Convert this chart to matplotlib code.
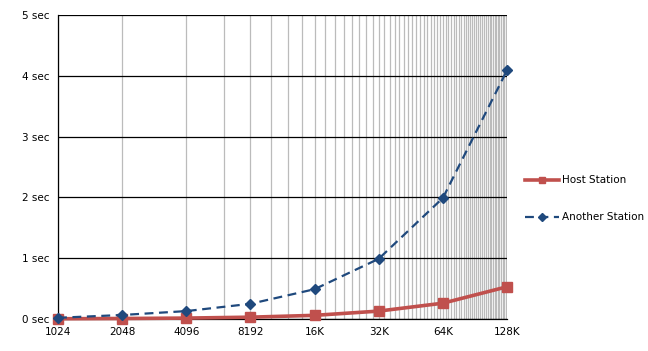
import numpy as np
import matplotlib
matplotlib.use("Agg")
import matplotlib.pyplot as plt
from matplotlib.ticker import FixedLocator, NullFormatter

# data
sizes = [1024, 2048, 4096, 8192, 16384, 32768, 65536, 131072]
size_labels = ["1024", "2048", "4096", "8192", "16K", "32K", "64K", "128K"]
host_station = [0.004, 0.008, 0.015, 0.03, 0.06, 0.13, 0.26, 0.53]
another_station = [0.02, 0.066, 0.13, 0.25, 0.49, 0.99, 1.99, 4.09]
y_ticks = [0, 1, 2, 3, 4, 5]
y_labels = ["0 sec", "1 sec", "2 sec", "3 sec", "4 sec", "5 sec"]

RED = "#C0504D"
BLUE = "#1F497D"


def main():
    fig = plt.figure(figsize=(6.48, 3.51), dpi=100)
    ax = fig.add_axes([58 / 648, 32 / 351, 449 / 648, 304 / 351])

    ax.set_xscale("log", base=2)
    ax.set_xlim(sizes[0], sizes[-1])
    ax.set_ylim(0, 5)

    # minor gridlines every 2048
    minor = [v for v in range(2048, sizes[-1], 2048) if v not in sizes]
    ax.xaxis.set_major_locator(FixedLocator(sizes))
    ax.xaxis.set_minor_locator(FixedLocator(minor))
    ax.xaxis.set_minor_formatter(NullFormatter())
    ax.set_xticklabels(size_labels)
    ax.set_yticks(y_ticks)
    ax.set_yticklabels(y_labels)

    ax.grid(True, axis="x", which="both", color="#BBBBBB", linewidth=0.9)
    ax.grid(True, axis="y", which="major", color="black", linewidth=0.9)
    ax.set_axisbelow(True)

    for side in ["right", "top"]:
        ax.spines[side].set_visible(False)
    for side in ["left", "bottom"]:
        ax.spines[side].set_color("black")
        ax.spines[side].set_linewidth(0.9)

    ax.tick_params(axis="both", which="both", length=0, labelsize=7.5, colors="black")
    ax.tick_params(axis="x", pad=6)
    ax.tick_params(axis="y", pad=6)

    ax.plot(sizes, host_station, color=RED, linewidth=2.6, marker="s",
            markersize=7, label="Host Station", clip_on=False, zorder=3)
    ax.plot(sizes, another_station, color=BLUE, linewidth=1.6, linestyle=(0, (4, 2.5)),
            marker="D", markersize=5, label="Another Station", clip_on=False, zorder=4)

    leg = ax.legend(loc="center left", bbox_to_anchor=(1.02, 0.395), frameon=False,
                    fontsize=7.5, handlelength=3.2, labelspacing=2.6, handletextpad=0.3)
    for h in leg.legend_handles:
        h.set_markersize(4)

    fig.savefig("out.png", dpi=100)
    plt.close(fig)


if __name__ == "__main__":
    main()
